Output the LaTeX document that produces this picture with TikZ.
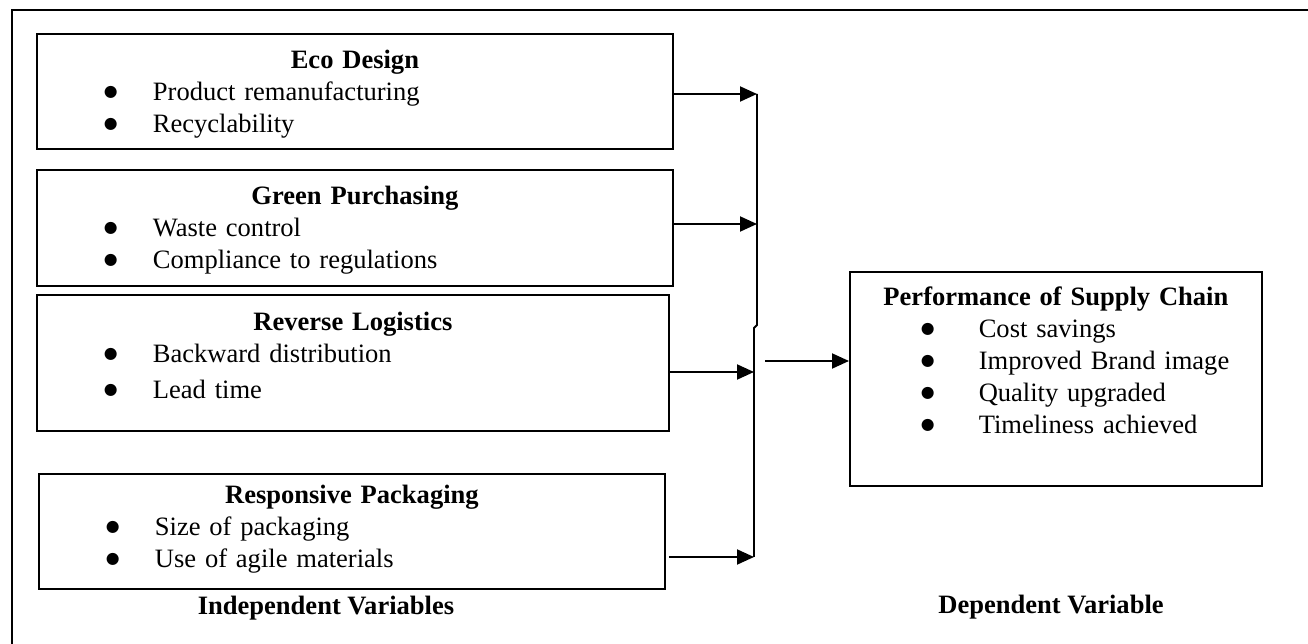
\documentclass[tikz,border=0pt]{standalone}
\usepackage{fontspec}
\setmainfont{Liberation Serif}
\newfontfamily\dotfont{DejaVu Sans}
\usepackage{tikz}
\usetikzlibrary{arrows.meta, positioning}

\newcommand{\bul}[1][1.34cm]{\hspace*{#1}\makebox[0.98cm][l]{\raisebox{0.07cm}{\dotfont\fontsize{9pt}{9pt}\selectfont ●}}}
\newcommand{\head}[1]{\noindent\makebox[\hsize]{\strut\bfseries #1}}

\tikzset{
  varbox/.style={draw, line width=1.1pt, anchor=north west, inner sep=0pt},
  items/.style={inner sep=0pt, align=left},
  caption/.style={anchor=base, font=\fontsize{15.1pt}{18.2pt}\selectfont\bfseries},
  arrow/.style={line width=1.1pt, -{Triangle[length=0.34cm,width=0.3cm]}},
  bus/.style={line width=1.1pt},
}

\begin{document}
\begin{tikzpicture}[x=0.02cm, y=-0.02cm, font=\fontsize{15.1pt}{18.2pt}\selectfont]
\useasboundingbox (0,0) rectangle (1308,644);

% frame
\draw[bus] (12,644) -- (12,10) -- (1308,10);

% independent variables
\node[varbox, minimum width=12.72cm, minimum height=2.30cm] (eco) at (36,33) {};
\node[varbox, minimum width=12.72cm, minimum height=2.32cm] (green) at (36,169) {};
\node[varbox, minimum width=12.64cm, minimum height=2.72cm] (reverse) at (36,294) {};
\node[varbox, minimum width=12.52cm, minimum height=2.30cm] (pack) at (38,473) {};

\node[items, text width=12.72cm, below=0.252cm of eco.north] (ecotext)
  {\head{Eco Design}\\ \bul Product remanufacturing\\ \bul Recyclability};
\node[items, text width=12.72cm, below=0.252cm of green.north] (greentext)
  {\head{Green Purchasing}\\ \bul Waste control\\ \bul Compliance to regulations};
\node[items, text width=12.64cm, below=0.272cm of reverse.north] (reversetext)
  {\head{Reverse Logistics}\\ \bul Backward distribution\\[0.08cm] \bul Lead time};
\node[items, text width=12.52cm, below=0.152cm of pack.north] (packtext)
  {\head{Responsive Packaging}\\ \bul Size of packaging\\ \bul Use of agile materials};

% dependent variable
\node[varbox, minimum width=8.24cm, minimum height=4.28cm] (perf) at (849,271) {};
\node[items, text width=8.24cm, below=0.232cm of perf.north] (perftext)
  {\head{Performance of Supply Chain}\\ \bul[1.42cm] Cost savings\\ \bul[1.42cm] Improved Brand image\\
   \bul[1.42cm] Quality upgraded\\ \bul[1.42cm] Timeliness achieved};

% collecting line
\coordinate (j1) at (757,94);
\coordinate (j2) at (757,224);
\coordinate (k1) at (757,325);
\coordinate (k2) at (754,328);
\coordinate (j3) at (754,372);
\coordinate (j4) at (754,557);
\coordinate (s5) at (765,361);

\draw[bus] (j1) -- (j2) -- (k1) -- (k2) -- (j3) -- (j4);
\draw[arrow] (eco.east |- j1) -- (j1);
\draw[arrow] (green.east |- j2) -- (j2);
\draw[arrow] (reverse.east |- j3) -- (j3);
\draw[arrow] ([xshift=0.06cm]pack.east |- j4) -- (j4);
\draw[arrow] (s5) -- (perf.west |- s5);

\node[caption] (indep) at (326,615) {Independent Variables};
\node[caption] (dep) at (1051,614) {Dependent Variable};
\end{tikzpicture}
\end{document}
